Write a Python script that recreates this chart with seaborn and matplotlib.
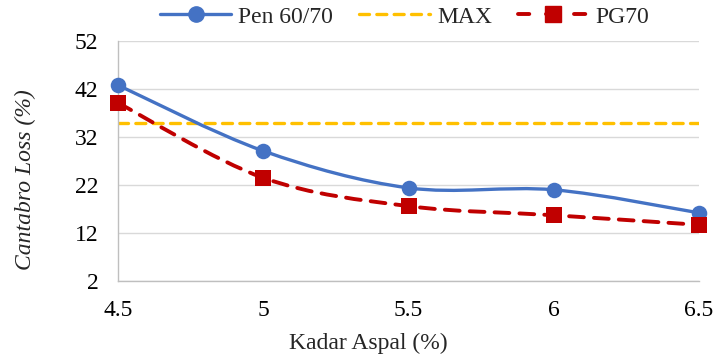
import numpy as np
import pandas as pd
import matplotlib
matplotlib.use("Agg")
import matplotlib.pyplot as plt
from matplotlib.path import Path
from matplotlib.patches import PathPatch
from matplotlib.lines import Line2D
import seaborn as sns

# Asphalt content (%) and Cantabro loss (%) for each binder
kadar_aspal = [4.5, 5.0, 5.5, 6.0, 6.5]
pen_6070 = [42.8, 29.1, 21.4, 21.0, 16.2]
pg70 = [39.1, 23.5, 17.6, 15.7, 13.7]
max_loss = 35.0
y_ticks = [2, 12, 22, 32, 42, 52]
x_ticks = [4.5, 5, 5.5, 6, 6.5]

BLUE = "#4472C4"
RED = "#C00000"
YELLOW = "#FFC000"
FS = 17

sns.set_theme(style="white")
plt.rcParams["font.family"] = ["Liberation Serif", "DejaVu Serif"]

df = pd.DataFrame({"kadar": kadar_aspal, "Pen 60/70": pen_6070, "PG70": pg70})

fig = plt.figure(figsize=(7.15, 3.54), dpi=100)
ax = fig.add_axes([118 / 715, 1 - 281 / 354, (699 - 118) / 715, (281 - 41) / 354])


def smooth_path(x, y):
    """Cubic Bezier path through the points (Catmull-Rom style smoothing)."""
    pts = np.column_stack([x, y]).astype(float)
    verts = [pts[0]]
    codes = [Path.MOVETO]
    n = len(pts)
    for i in range(n - 1):
        p0 = pts[i - 1] if i > 0 else pts[i]
        p1 = pts[i]
        p2 = pts[i + 1]
        p3 = pts[i + 2] if i + 2 < n else pts[i + 1]
        c1 = p1 + (p2 - p0) / 6.0
        c2 = p2 - (p3 - p1) / 6.0
        verts += [c1, c2, p2]
        codes += [Path.CURVE4] * 3
    return Path(verts, codes)


YDASH = (0, (3.0, 2.2))
RDASH = (0, (3.8, 2.6))

# MAX limit
ax.axhline(max_loss, color=YELLOW, lw=2.4, ls=YDASH, dash_capstyle="round", zorder=2)

# Smoothed series lines
ax.add_patch(PathPatch(smooth_path(df["kadar"], df["PG70"]), fill=False,
                       edgecolor=RED, lw=2.8, ls=RDASH, capstyle="round",
                       zorder=3, clip_on=False))
ax.add_patch(PathPatch(smooth_path(df["kadar"], df["Pen 60/70"]), fill=False,
                       edgecolor=BLUE, lw=2.4, zorder=4, clip_on=False))

# Markers
sns.scatterplot(data=df, x="kadar", y="Pen 60/70", ax=ax, color=BLUE, marker="o",
                s=125, edgecolor=BLUE, linewidth=0, zorder=5, legend=False)
sns.scatterplot(data=df, x="kadar", y="PG70", ax=ax, color=RED, marker="s",
                s=135, edgecolor=RED, linewidth=0, zorder=5, legend=False)
for coll in ax.collections:
    coll.set_clip_on(False)

ax.set_xlim(4.5, 6.5)
ax.set_ylim(2, 52)
ax.set_xticks(x_ticks)
ax.set_xticklabels([f"{v:g}" for v in x_ticks])
ax.set_yticks(y_ticks)
ax.grid(axis="y", color="#D9D9D9", lw=1.0)
ax.grid(axis="x", visible=False)
for side in ["top", "right"]:
    ax.spines[side].set_visible(False)
for side in ["left", "bottom"]:
    ax.spines[side].set_color("#BFBFBF")
    ax.spines[side].set_linewidth(1.0)
ax.tick_params(axis="both", length=0, labelsize=FS, colors="black")
ax.tick_params(axis="y", pad=14)
ax.tick_params(axis="x", pad=14)

ax.set_xlabel("Kadar Aspal (%)", fontsize=FS)
ax.set_ylabel("Cantabro Loss (%)", fontsize=FS, style="italic")
ax.xaxis.set_label_coords((368 - 118) / 581, (281 - 343) / 240)
ax.yaxis.set_label_coords((25 - 118) / 581, (281 - 180) / 240)
ax.xaxis.label.set_verticalalignment("center")
ax.yaxis.label.set_verticalalignment("center")

handles = [
    Line2D([], [], color=BLUE, lw=2.4, marker="o", markersize=11),
    Line2D([], [], color=YELLOW, lw=2.4, ls=YDASH, dash_capstyle="round"),
    Line2D([], [], color=RED, lw=2.8, ls=(0, (2.9, 4.3)), marker="s", markersize=11.5,
           dash_capstyle="round"),
]
fig.legend(handles, ["Pen 60/70", "MAX", "PG70"], loc="center",
           bbox_to_anchor=(405 / 715, 1 - 17 / 354),
           ncol=3, frameon=False, fontsize=FS, handlelength=3.0, columnspacing=1.1,
           handletextpad=0.3)

fig.savefig("out.png", dpi=100)
